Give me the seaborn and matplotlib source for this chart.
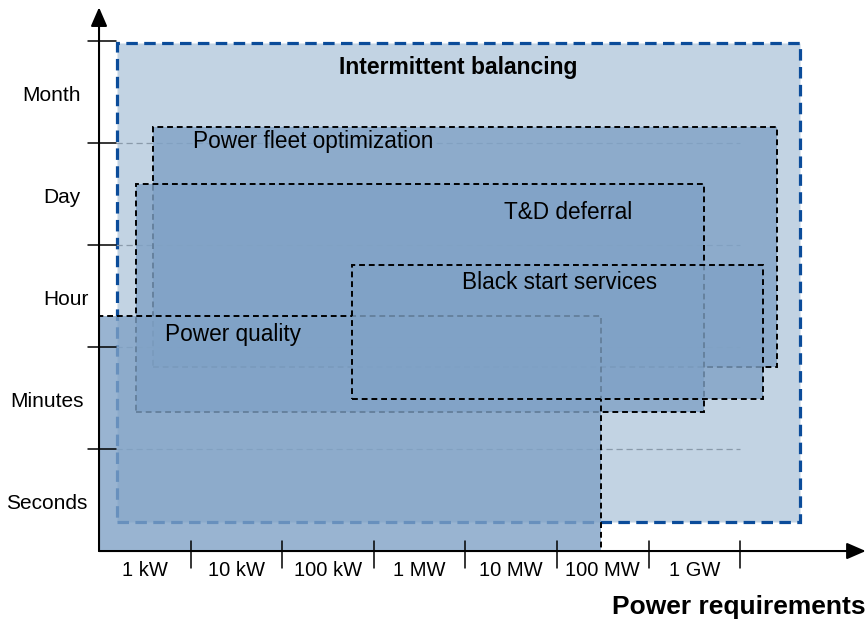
import matplotlib
matplotlib.use("Agg")
import matplotlib.pyplot as plt
import seaborn as sns
from matplotlib.patches import Rectangle

# applications: power range (decades from 1 kW) and time range (Seconds .. Month)
apps = ["Intermittent balancing", "Power fleet optimization", "T&D deferral",
        "Power quality", "Black start services"]
x_start = [0.20, 0.59, 0.40, 0.00, 2.76]
x_end = [7.65, 7.40, 6.60, 5.48, 7.25]
y_start = [0.28, 1.80, 1.36, 0.00, 1.49]
y_end = [4.98, 4.16, 3.60, 2.30, 2.80]
label_x = [3.92, 2.34, 5.12, 1.46, 5.03]
label_y = [4.74, 4.01, 3.32, 2.12, 2.63]

power_labels = ["1 kW", "10 kW", "100 kW", "1 MW", "10 MW", "100 MW", "1 GW"]
time_labels = ["Seconds", "Minutes", "Hour", "Day", "Month"]
time_label_x = [-0.57, -0.57, -0.36, -0.41, -0.52]

sns.set_style("white")
plt.rcParams["font.family"] = ["Liberation Sans", "DejaVu Sans"]
plt.rcParams["text.color"] = "black"

fig = plt.figure(figsize=(8.67, 6.21), dpi=100)
ax = fig.add_axes([0, 0, 1, 1])
ax.set_xlim(-1.081, 8.384)
ax.set_ylim(-0.686, 5.402)
ax.axis("off")

inner_fill = (0.502, 0.635, 0.776, 0.8)

for i, name in enumerate(apps):
    w = x_end[i] - x_start[i]
    h = y_end[i] - y_start[i]
    if i == 0:
        rect = Rectangle((x_start[i], y_start[i]), w, h, facecolor="#c2d3e3",
                         edgecolor="#0b4c9a", lw=2.3, linestyle=(0, (3.6, 2.0)), zorder=1)
        ax.add_patch(rect)
        # faint guide lines at the time boundaries
        ax.hlines([1, 2, 3, 4], 0.19, 7.0, colors="#8a9aaa", lw=0.9,
                  linestyles=(0, (5, 3)), zorder=1.5)
        ax.text(label_x[i], label_y[i], name, fontsize=16.5, fontweight="bold",
                ha="center", va="center", zorder=10)
    else:
        rect = Rectangle((x_start[i], y_start[i]), w, h, facecolor=inner_fill,
                         edgecolor="black", lw=1.4, linestyle=(0, (3, 2)), zorder=2 + i)
        ax.add_patch(rect)
        ax.text(label_x[i], label_y[i], name, fontsize=16.3,
                ha="center", va="center", zorder=10)

# axes with arrows
arrow = dict(arrowstyle="-|>,head_length=1.15,head_width=0.5", mutation_scale=10,
             lw=1.5, color="black", shrinkA=0, shrinkB=0)
ax.annotate("", xy=(8.37, 0), xytext=(0, 0), arrowprops=arrow, zorder=20)
ax.annotate("", xy=(0, 5.33), xytext=(0, 0), arrowprops=arrow, zorder=20)

# tick marks
for k in range(1, len(power_labels) + 1):
    ax.plot([k, k], [0.098, -0.167], color="black", lw=1.1, zorder=20)
for k in range(1, len(time_labels) + 1):
    ax.plot([-0.12, 0.186], [k, k], color="black", lw=1.1, zorder=20)

for k, lab in enumerate(power_labels):
    ax.text(k + 0.5, -0.19, lab, fontsize=14.5, ha="center", va="center")
for k, lab in enumerate(time_labels):
    ax.text(time_label_x[k], k + 0.47, lab, fontsize=15, ha="center", va="center")

ax.text(8.37, -0.55, "Power requirements", fontsize=19, fontweight="bold",
        ha="right", va="center")

fig.savefig("out.png", dpi=100)
